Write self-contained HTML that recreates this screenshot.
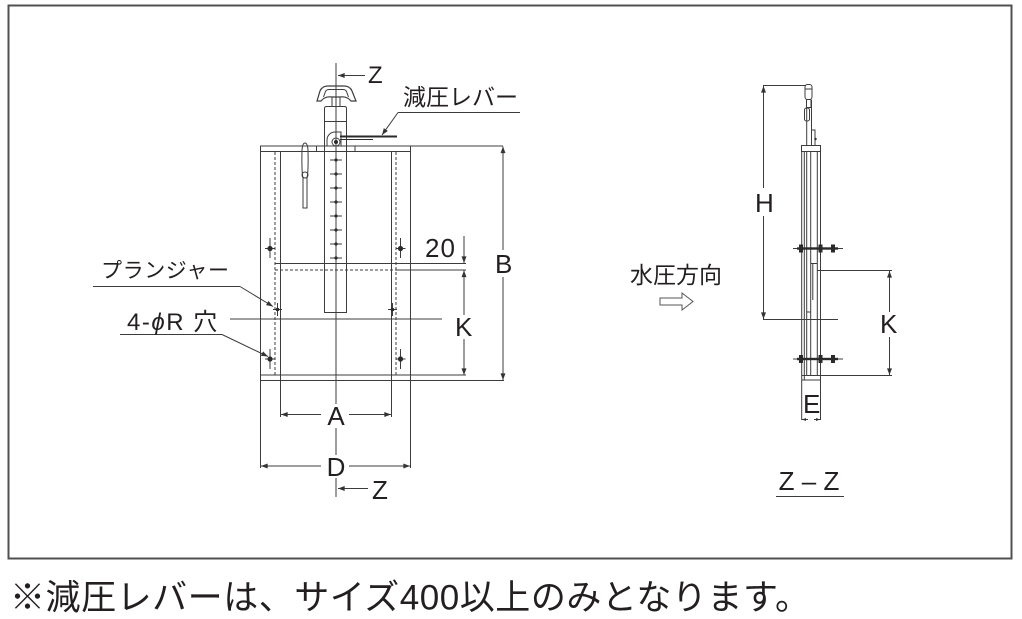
<!DOCTYPE html>
<html><head><meta charset="utf-8">
<style>
html,body{margin:0;padding:0;background:#fff;}
svg{display:block;}
text{font-family:"Liberation Sans","Noto Sans CJK JP",sans-serif;fill:#231f20;}
</style></head><body>
<svg width="1022" height="619" viewBox="0 0 1022 619" xmlns="http://www.w3.org/2000/svg">
<defs>
<marker id="ar" viewBox="0 0 8 6" refX="8" refY="3" markerWidth="7" markerHeight="5" orient="auto" markerUnits="userSpaceOnUse"><path d="M0,0 L8,3 L0,6 z" fill="#333"/></marker>
<marker id="ar2" viewBox="0 0 8 6" refX="8" refY="3" markerWidth="4" markerHeight="3" orient="auto" markerUnits="userSpaceOnUse"><path d="M0,0 L8,3 L0,6 z" fill="#333"/></marker>
</defs>

<rect x="8.5" y="5.5" width="1003" height="553" fill="none" stroke="#505050" stroke-width="2"/>

<!-- LEFT DRAWING -->
<g stroke="#3c3c3c" stroke-width="1" fill="none">
  <line x1="336" y1="63" x2="336" y2="404"/>
  <line x1="336" y1="428" x2="336" y2="455"/>
  <line x1="336" y1="478" x2="336" y2="497"/>
  <line x1="365" y1="75.5" x2="338" y2="75.5" marker-end="url(#ar)"/>
  <path d="M317,101 L320,91 Q322,86 328,86 L344,86 Q350,86 352,91 L356,101 L351,101 Q347,96 340,97 L332,97 Q325,96 321,101 Z" stroke-width="1.2"/>
  <path d="M323.5,97 L325.5,91.5 Q326.5,89.5 329,89.5 L343,89.5 Q345.5,89.5 346.5,91.5 L348.5,97"/>
  <rect x="332" y="97" width="8" height="9.5"/>
  <path d="M324.5,121.5 L324.5,108.5 Q324.5,106.5 326.5,106.5 L344.5,106.5 Q346.5,106.5 346.5,108.5 L346.5,121.5"/>
  <rect x="324.5" y="121.5" width="22" height="191"/>
  <path d="M327,146 L327,140 A8,8 0 0 1 335,132 L341,132 L341,146"/>
  <circle cx="336" cy="142" r="4"/>
  <line x1="260" y1="146" x2="503" y2="146"/>
  <line x1="260" y1="151.5" x2="411" y2="151.5"/>
  <line x1="316.5" y1="146" x2="316.5" y2="151.5"/>
  <line x1="355" y1="146" x2="355" y2="151.5"/>
  <line x1="260.5" y1="146" x2="260.5" y2="468"/>
  <line x1="410.5" y1="146" x2="410.5" y2="468"/>
  <line x1="280.5" y1="151.5" x2="280.5" y2="417"/>
  <line x1="391.5" y1="151.5" x2="391.5" y2="417"/>
  <line x1="275" y1="152" x2="275" y2="375" stroke-dasharray="3,2"/>
  <line x1="396" y1="152" x2="396" y2="375" stroke-dasharray="3,2"/>
  <line x1="275" y1="263.5" x2="466" y2="263.5"/>
  <line x1="275" y1="270" x2="396" y2="270" stroke-dasharray="3,2"/>
  <line x1="396" y1="270" x2="466" y2="270"/>
  <line x1="230" y1="319" x2="442" y2="319"/>
  <line x1="260" y1="375" x2="466" y2="375"/>
  <line x1="260" y1="380.5" x2="504" y2="380.5"/>
  <path d="M303,208 L303,178 Q301.5,172 302,150 Q302.5,143 305,143 Q307.5,143 308,150 Q308.5,172 307,178 L307,208 Z"/>
  <circle cx="305" cy="175" r="3"/>
  <line x1="503" y1="250" x2="503" y2="146.5" marker-end="url(#ar)"/>
  <line x1="503" y1="277" x2="503" y2="380" marker-end="url(#ar)"/>
  <line x1="464" y1="236" x2="464" y2="263" marker-end="url(#ar)"/>
  <line x1="464" y1="315" x2="464" y2="270.5" marker-end="url(#ar)"/>
  <line x1="464" y1="339" x2="464" y2="375" marker-end="url(#ar)"/>
  <line x1="321" y1="414.5" x2="281" y2="414.5" marker-end="url(#ar)"/>
  <line x1="349" y1="414.5" x2="391" y2="414.5" marker-end="url(#ar)"/>
  <line x1="321" y1="466" x2="261" y2="466" marker-end="url(#ar)"/>
  <line x1="349" y1="466" x2="410" y2="466" marker-end="url(#ar)"/>
  <line x1="368" y1="488.5" x2="338" y2="488.5" marker-end="url(#ar)"/>
  <line x1="398" y1="112.5" x2="520" y2="112.5"/>
  <line x1="398" y1="112.5" x2="382" y2="135" marker-end="url(#ar)"/>
  <line x1="93" y1="286.5" x2="240" y2="286.5"/>
  <line x1="240" y1="286.5" x2="273" y2="306.5" marker-end="url(#ar)"/>
  <line x1="120" y1="334.5" x2="222" y2="334.5"/>
  <line x1="222" y1="334.5" x2="268" y2="356.5" marker-end="url(#ar)"/>
  <line x1="270" y1="238" x2="270" y2="258"/><line x1="265" y1="248.5" x2="275" y2="248.5"/>
  <line x1="400.5" y1="238" x2="400.5" y2="258"/><line x1="395.5" y1="248.5" x2="405.5" y2="248.5"/>
  <line x1="270" y1="349" x2="270" y2="369"/><line x1="265" y1="359" x2="275" y2="359"/>
  <line x1="400.5" y1="349" x2="400.5" y2="369"/><line x1="395.5" y1="359" x2="405.5" y2="359"/>
  <line x1="277.5" y1="303" x2="277.5" y2="316"/><line x1="273" y1="309.5" x2="282" y2="309.5"/>
  <line x1="392.5" y1="303" x2="392.5" y2="316"/><line x1="388" y1="309.5" x2="397" y2="309.5"/>
  <line x1="330" y1="160" x2="342" y2="160"/>
  <line x1="330" y1="174" x2="342" y2="174"/>
  <line x1="330" y1="188" x2="342" y2="188"/>
  <line x1="330" y1="202" x2="342" y2="202"/>
  <line x1="330" y1="216" x2="342" y2="216"/>
  <line x1="330" y1="230" x2="342" y2="230"/>
  <line x1="330" y1="244" x2="342" y2="244"/>
  <line x1="330" y1="258" x2="342" y2="258"/>
</g>
<g fill="#2a2a2a">
  <rect x="340" y="135.5" width="57" height="2"/>
  <rect x="340" y="139" width="33" height="1"/>
  <circle cx="336" cy="142" r="2"/>
  <circle cx="336" cy="160" r="1.6"/><circle cx="336" cy="174" r="1.6"/><circle cx="336" cy="188" r="1.6"/><circle cx="336" cy="202" r="1.6"/>
  <circle cx="336" cy="216" r="1.6"/><circle cx="336" cy="230" r="1.6"/><circle cx="336" cy="244" r="1.6"/><circle cx="336" cy="258" r="1.6"/>
  <circle cx="270" cy="248.5" r="2.6"/><circle cx="400.5" cy="248.5" r="2.6"/>
  <circle cx="270" cy="359" r="2.6"/><circle cx="400.5" cy="359" r="2.6"/>
  <circle cx="277.5" cy="309.5" r="1.8"/><circle cx="392.5" cy="309.5" r="1.8"/>
</g>

<!-- RIGHT DRAWING -->
<g stroke="#3c3c3c" stroke-width="1" fill="none">
  <line x1="763" y1="85.5" x2="806" y2="85.5"/>
  <line x1="763.5" y1="188" x2="763.5" y2="86" marker-end="url(#ar)"/>
  <line x1="763.5" y1="216" x2="763.5" y2="319" marker-end="url(#ar)"/>
  <line x1="763" y1="319.5" x2="838" y2="319.5"/>
  <rect x="805" y="84.5" width="7" height="15" rx="2.5"/>
  <line x1="805" y1="89" x2="812" y2="89"/>
  <rect x="806.5" y="99.5" width="4.5" height="8"/>
  <rect x="804.5" y="108" width="5" height="13" rx="2"/>
  <line x1="806.7" y1="108" x2="806.7" y2="146"/>
  <line x1="811.5" y1="100" x2="811.5" y2="146"/>
  <path d="M811.5,130 L815,130 L815,146"/>
  <rect x="801.5" y="145.5" width="19" height="6"/>
  <line x1="801.7" y1="151" x2="801.7" y2="420"/>
  <line x1="820.5" y1="151" x2="820.5" y2="420"/>
  <line x1="804.3" y1="151.5" x2="804.3" y2="380"/>
  <line x1="806.7" y1="151.5" x2="806.7" y2="375"/>
  <line x1="810.7" y1="151.5" x2="810.7" y2="375"/>
  <line x1="806.7" y1="312" x2="810.7" y2="312"/>
  <line x1="817.3" y1="151.5" x2="817.3" y2="375"/>
  <line x1="810.7" y1="263.5" x2="817.3" y2="263.5"/>
  <line x1="812.8" y1="263.5" x2="812.8" y2="300"/>
  <line x1="817.3" y1="270.5" x2="892" y2="270.5"/>
  <line x1="801.7" y1="375.5" x2="892" y2="375.5"/>
  <line x1="801.7" y1="380" x2="820.5" y2="380"/>
  <line x1="889.5" y1="312" x2="889.5" y2="271" marker-end="url(#ar)"/>
  <line x1="889.5" y1="337" x2="889.5" y2="375" marker-end="url(#ar)"/>
  <line x1="808" y1="419.5" x2="802" y2="419.5" marker-end="url(#ar2)"/>
  <line x1="814" y1="419.5" x2="820" y2="419.5" marker-end="url(#ar2)"/>
  <line x1="793" y1="248.5" x2="843" y2="248.5"/>
  <line x1="793" y1="359" x2="843" y2="359"/>
  <line x1="776" y1="496.5" x2="844" y2="496.5"/>
  <path d="M660,298 L682,298 L682,293 L693,301.5 L682,310 L682,305 L660,305 Z" stroke="#555"/>
</g>
<g fill="#2a2a2a">
  <circle cx="815.5" cy="139" r="1.2"/>
  <rect x="797" y="247.3" width="41" height="2.4"/>
  <rect x="799" y="244.5" width="4" height="8"/><rect x="818.5" y="244.5" width="4" height="8"/><rect x="831" y="244.5" width="4" height="8"/>
  <rect x="797" y="357.8" width="41" height="2.4"/>
  <rect x="799" y="355" width="4" height="8"/><rect x="818.5" y="355" width="4" height="8"/><rect x="831" y="355" width="4" height="8"/>
</g>

<!-- TEXT -->
<g font-size="26">
  <text x="368" y="83" font-size="24">Z</text>
  <text x="372" y="499">Z</text>
  <text x="336" y="425" text-anchor="middle">A</text>
  <text x="336" y="476" text-anchor="middle">D</text>
  <text x="495" y="273">B</text>
  <text x="455" y="336">K</text>
  <text x="425" y="257" letter-spacing="1">20</text>
  <text x="755" y="212">H</text>
  <text x="880" y="333">K</text>
  <text x="803" y="413">E</text>
  <text x="809" y="490" text-anchor="middle">Z – Z</text>
</g>
<text x="403" y="105" font-size="23">減圧レバー</text>
<text x="101" y="277.5" font-size="21" letter-spacing="0.6">プランジャー</text>
<text x="127" y="330" font-size="24" letter-spacing="1.5">4-<tspan font-style="italic">ϕ</tspan>R 穴</text>
<text x="630" y="283" font-size="23">水圧方向</text>
<text x="10" y="609.5" font-size="35" textLength="800" lengthAdjust="spacing">※減圧レバーは、サイズ400以上のみとなります。</text>
</svg>
</body></html>
